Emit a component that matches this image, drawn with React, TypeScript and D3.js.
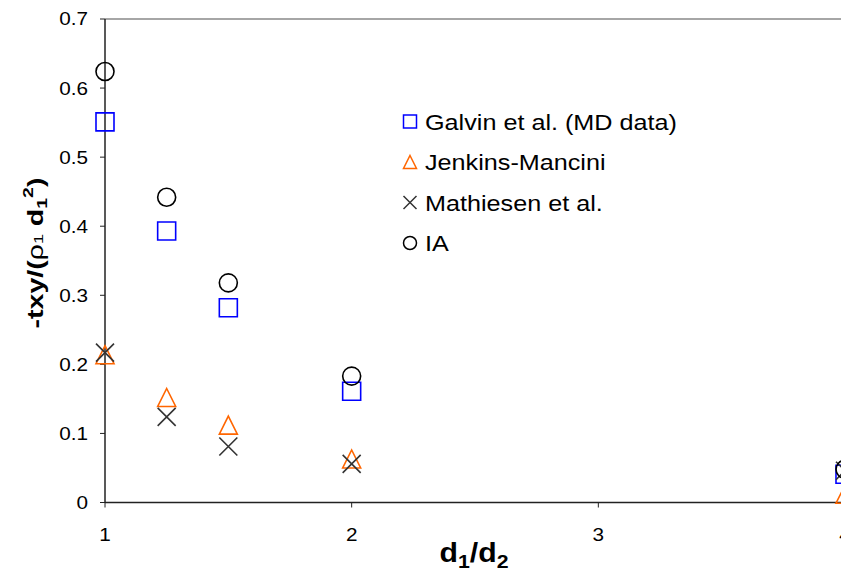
import React from "react";
import * as d3 from "d3";

const xCats = [1, 1.25, 1.5, 2, 4];
const galvin = [0.551, 0.393, 0.282, 0.161, 0.041];
const jenkins = [0.214, 0.152, 0.112, 0.063, 0.012];
const mathiesen = [0.217, 0.124, 0.081, 0.056, 0.046];
const ia = [0.624, 0.442, 0.318, 0.183, 0.048];
const xTicks = [1, 2, 3, 4];
const yTicks = [0, 0.1, 0.2, 0.3, 0.4, 0.5, 0.6, 0.7];
const legendNames = ["Galvin et al. (MD data)", "Jenkins-Mancini", "Mathiesen et al.", "IA"];

const W = 841;
const H = 573;
const FONT = "Liberation Sans, Arial, sans-serif";
const SX = 1.12; // the picture is a bit wider than tall

// marker path centred on (cx, cy), s = box size
function markerPath(kind: string, cx: number, cy: number, s: number) {
  const h = s / 2;
  const p = d3.path();
  if (kind === "square") {
    p.rect(cx - h, cy - h, s, s);
  } else if (kind === "triangle") {
    p.moveTo(cx, cy - h);
    p.lineTo(cx + h, cy + h);
    p.lineTo(cx - h, cy + h);
    p.closePath();
  } else if (kind === "x") {
    p.moveTo(cx - h, cy - h);
    p.lineTo(cx + h, cy + h);
    p.moveTo(cx + h, cy - h);
    p.lineTo(cx - h, cy + h);
  } else {
    p.moveTo(cx + h, cy);
    p.arc(cx, cy, h, 0, Math.PI * 2);
  }
  return p.toString();
}

const series = [
  { name: legendNames[0], values: galvin, kind: "square", color: "#0000ff" },
  { name: legendNames[1], values: jenkins, kind: "triangle", color: "#ff6600" },
  { name: legendNames[2], values: mathiesen, kind: "x", color: "#333333" },
  { name: legendNames[3], values: ia, kind: "circle", color: "#000000" }
];

export default function App() {
  const x = d3.scaleLinear().domain([1, 4]).range([105, 845]);
  const y = d3.scaleLinear().domain([0, 0.7]).range([502.5, 19]);

  return (
    <svg
      width={W}
      height={H}
      style={{ position: "absolute", left: 0, top: 0, background: "#fff" }}
      fontFamily={FONT}
    >
      <rect x={0} y={0} width={W} height={H} fill="#fff" />
      {/* top border */}
      <line x1={x(1)} x2={W} y1={y(0.7)} y2={y(0.7)} stroke="#888" strokeWidth={1.5} />

      {/* y axis */}
      <line x1={x(1)} x2={x(1)} y1={y(0.7)} y2={y(0)} stroke="#222" strokeWidth={1.5} />
      {yTicks.map(t => (
        <g key={"y" + t}>
          <line x1={x(1) - 5} x2={x(1)} y1={y(t)} y2={y(t)} stroke="#222" strokeWidth={1} />
          <text
            transform={`translate(88,${y(t)}) scale(${SX},1)`}
            dy="0.35em"
            textAnchor="end"
            fontSize={18.5}
            fill="#000"
          >
            {+t.toFixed(1)}
          </text>
        </g>
      ))}

      {/* x axis */}
      <line x1={x(1)} x2={W} y1={y(0)} y2={y(0)} stroke="#222" strokeWidth={1.5} />
      {xTicks.map(t => (
        <g key={"x" + t}>
          <line x1={x(t)} x2={x(t)} y1={y(0)} y2={y(0) + 5} stroke="#222" strokeWidth={1} />
          <text
            transform={`translate(${x(t)},541) scale(${SX},1)`}
            textAnchor={t === 4 ? "start" : "middle"}
            dx={t === 4 ? "-0.28em" : 0}
            fontSize={18.5}
            fill="#000"
          >
            {t}
          </text>
        </g>
      ))}

      {/* axis titles */}
      <text
        transform={`translate(474,562) scale(${SX},1)`}
        textAnchor="middle"
        fontSize={27}
        fontWeight="bold"
        fill="#000"
      >
        d<tspan fontSize={19} dy={6}>1</tspan>
        <tspan dy={-6}>/d</tspan>
        <tspan fontSize={19} dy={6}>2</tspan>
      </text>
      <text
        transform="translate(43,253) rotate(-90) scale(1.5,1.12)"
        textAnchor="middle"
        fontSize={19}
        fontWeight="bold"
        fill="#000"
      >
        -t<tspan>xy</tspan>
        <tspan>/(</tspan>
        <tspan fontWeight="normal">ρ</tspan>
        <tspan fontWeight="normal" fontSize={12}>1</tspan>
        <tspan> d</tspan>
        <tspan fontSize={13} dy={4}>1</tspan>
        <tspan fontSize={13} dy={-13}>2</tspan>
        <tspan dy={9}>)</tspan>
      </text>

      {/* markers */}
      {series.map(s =>
        s.values.map((v, i) => (
          <path
            key={s.kind + i}
            d={markerPath(s.kind, x(xCats[i]), y(v), 18)}
            fill="none"
            stroke={s.color}
            strokeWidth={1.6}
          />
        ))
      )}

      {/* legend */}
      {series.map((s, i) => (
        <g key={"lg" + i} transform={`translate(0,${121.5 + i * 40.5})`}>
          <path d={markerPath(s.kind, 410, 0, 13)} fill="none" stroke={s.color} strokeWidth={1.5} />
          <text
            transform={`translate(425,0) scale(${SX},1)`}
            dy="0.36em"
            fontSize={22.5}
            fill="#000"
          >
            {s.name}
          </text>
        </g>
      ))}
    </svg>
  );
}
